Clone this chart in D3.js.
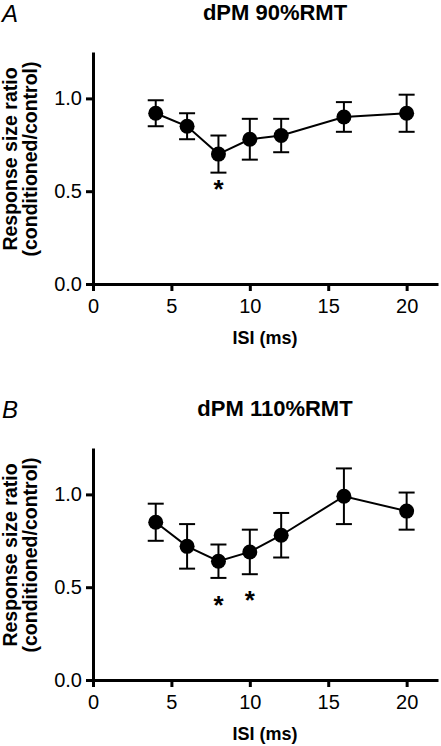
<!DOCTYPE html>
<html>
<head>
<meta charset="utf-8">
<script src="https://cdn.jsdelivr.net/npm/d3@7"></script>
<style>
  html, body { margin: 0; padding: 0; background: #fff; }
  svg { display: block; font-family: "Liberation Sans", Arial, sans-serif; }
</style>
</head>
<body>
<svg id="chart" width="441" height="746"></svg>
<script>
// ---- data ----
const isi = [4, 6, 8, 10, 12, 16, 20];
const meanA = [0.92, 0.85, 0.70, 0.78, 0.80, 0.90, 0.92];
const errA  = [0.07, 0.07, 0.10, 0.11, 0.09, 0.08, 0.10];
const meanB = [0.85, 0.72, 0.64, 0.69, 0.78, 0.99, 0.91];
const errB  = [0.10, 0.12, 0.09, 0.12, 0.12, 0.15, 0.10];
const starsA = [[8, 0.54]];
const starsB = [[8, 0.43], [10, 0.46]];
const xTicks = [0, 5, 10, 15, 20];
const yTicks = [0.0, 0.5, 1.0];
const titles = ["dPM 90%RMT", "dPM 110%RMT"];
const letters = ["A", "B"];
const yLabel = ["Response size ratio", "(conditioned/control)"];
const xLabel = "ISI (ms)";

const svg = d3.select("#chart");

function panel(offset, mean, err, stars, title, letter) {
  const g = svg.append("g").attr("transform", `translate(0,${offset})`);
  const x = d3.scaleLinear().domain([0, 22]).range([93, 438]);
  const y = d3.scaleLinear().domain([0, 1.25]).range([284, 52]);

  // letter
  g.append("text").attr("x", 2).attr("y", 22)
    .attr("font-size", 24).attr("font-style", "italic").text(letter);
  // title
  g.append("text").attr("x", 275).attr("y", 19.5).attr("text-anchor", "middle")
    .attr("font-size", 22).attr("font-weight", "bold").text(title);

  // axes
  const ya = g.append("g").attr("transform", `translate(${x(0)},0)`)
    .call(d3.axisLeft(y).tickValues(yTicks).tickFormat(d3.format(".1f")).tickSize(7).tickSizeOuter(0).tickPadding(4));
  const xa = g.append("g").attr("transform", `translate(0,${y(0)})`)
    .call(d3.axisBottom(x).tickValues(xTicks).tickSize(7).tickSizeOuter(0).tickPadding(8));
  [ya, xa].forEach(a => {
    a.select(".domain").attr("stroke", "#000").attr("stroke-width", 3);
    a.selectAll(".tick line").attr("stroke", "#000").attr("stroke-width", 3);
    a.selectAll(".tick text").attr("font-size", 20).attr("fill", "#000")
      .attr("font-family", "Liberation Sans, Arial, sans-serif");
  });

  // axis labels
  g.append("text").attr("x", 265).attr("y", 344).attr("text-anchor", "middle")
    .attr("font-size", 18).attr("font-weight", "bold").text(xLabel);
  const yl = g.append("text").attr("transform", "translate(0,159) rotate(-90)")
    .attr("text-anchor", "middle").attr("font-size", 19.5).attr("font-weight", "bold");
  yl.append("tspan").attr("x", 0).attr("y", 17).text(yLabel[0]);
  yl.append("tspan").attr("x", 0).attr("y", 37).text(yLabel[1]);

  const pts = isi.map((d, i) => ({ x: d, m: mean[i], e: err[i] }));

  // error bars
  const eb = g.append("g").selectAll("g").data(pts).join("g");
  eb.append("line").attr("x1", d => x(d.x)).attr("x2", d => x(d.x))
    .attr("y1", d => y(d.m - d.e)).attr("y2", d => y(d.m + d.e))
    .attr("stroke", "#000").attr("stroke-width", 2);
  eb.append("line").attr("x1", d => x(d.x) - 8).attr("x2", d => x(d.x) + 8)
    .attr("y1", d => y(d.m + d.e)).attr("y2", d => y(d.m + d.e))
    .attr("stroke", "#000").attr("stroke-width", 2);
  eb.append("line").attr("x1", d => x(d.x) - 8).attr("x2", d => x(d.x) + 8)
    .attr("y1", d => y(d.m - d.e)).attr("y2", d => y(d.m - d.e))
    .attr("stroke", "#000").attr("stroke-width", 2);

  // line
  g.append("path").datum(pts)
    .attr("d", d3.line().x(d => x(d.x)).y(d => y(d.m)))
    .attr("fill", "none").attr("stroke", "#000").attr("stroke-width", 2);

  // markers
  g.append("g").selectAll("circle").data(pts).join("circle")
    .attr("cx", d => x(d.x)).attr("cy", d => y(d.m)).attr("r", 7.5).attr("fill", "#000");

  // stars
  g.append("g").selectAll("text").data(stars).join("text")
    .attr("x", d => x(d[0])).attr("y", d => y(d[1]) + 14)
    .attr("text-anchor", "middle").attr("font-size", 26).attr("font-weight", "bold")
    .text("*");
}

panel(0, meanA, errA, starsA, titles[0], letters[0]);
panel(396, meanB, errB, starsB, titles[1], letters[1]);
</script>
</body>
</html>
